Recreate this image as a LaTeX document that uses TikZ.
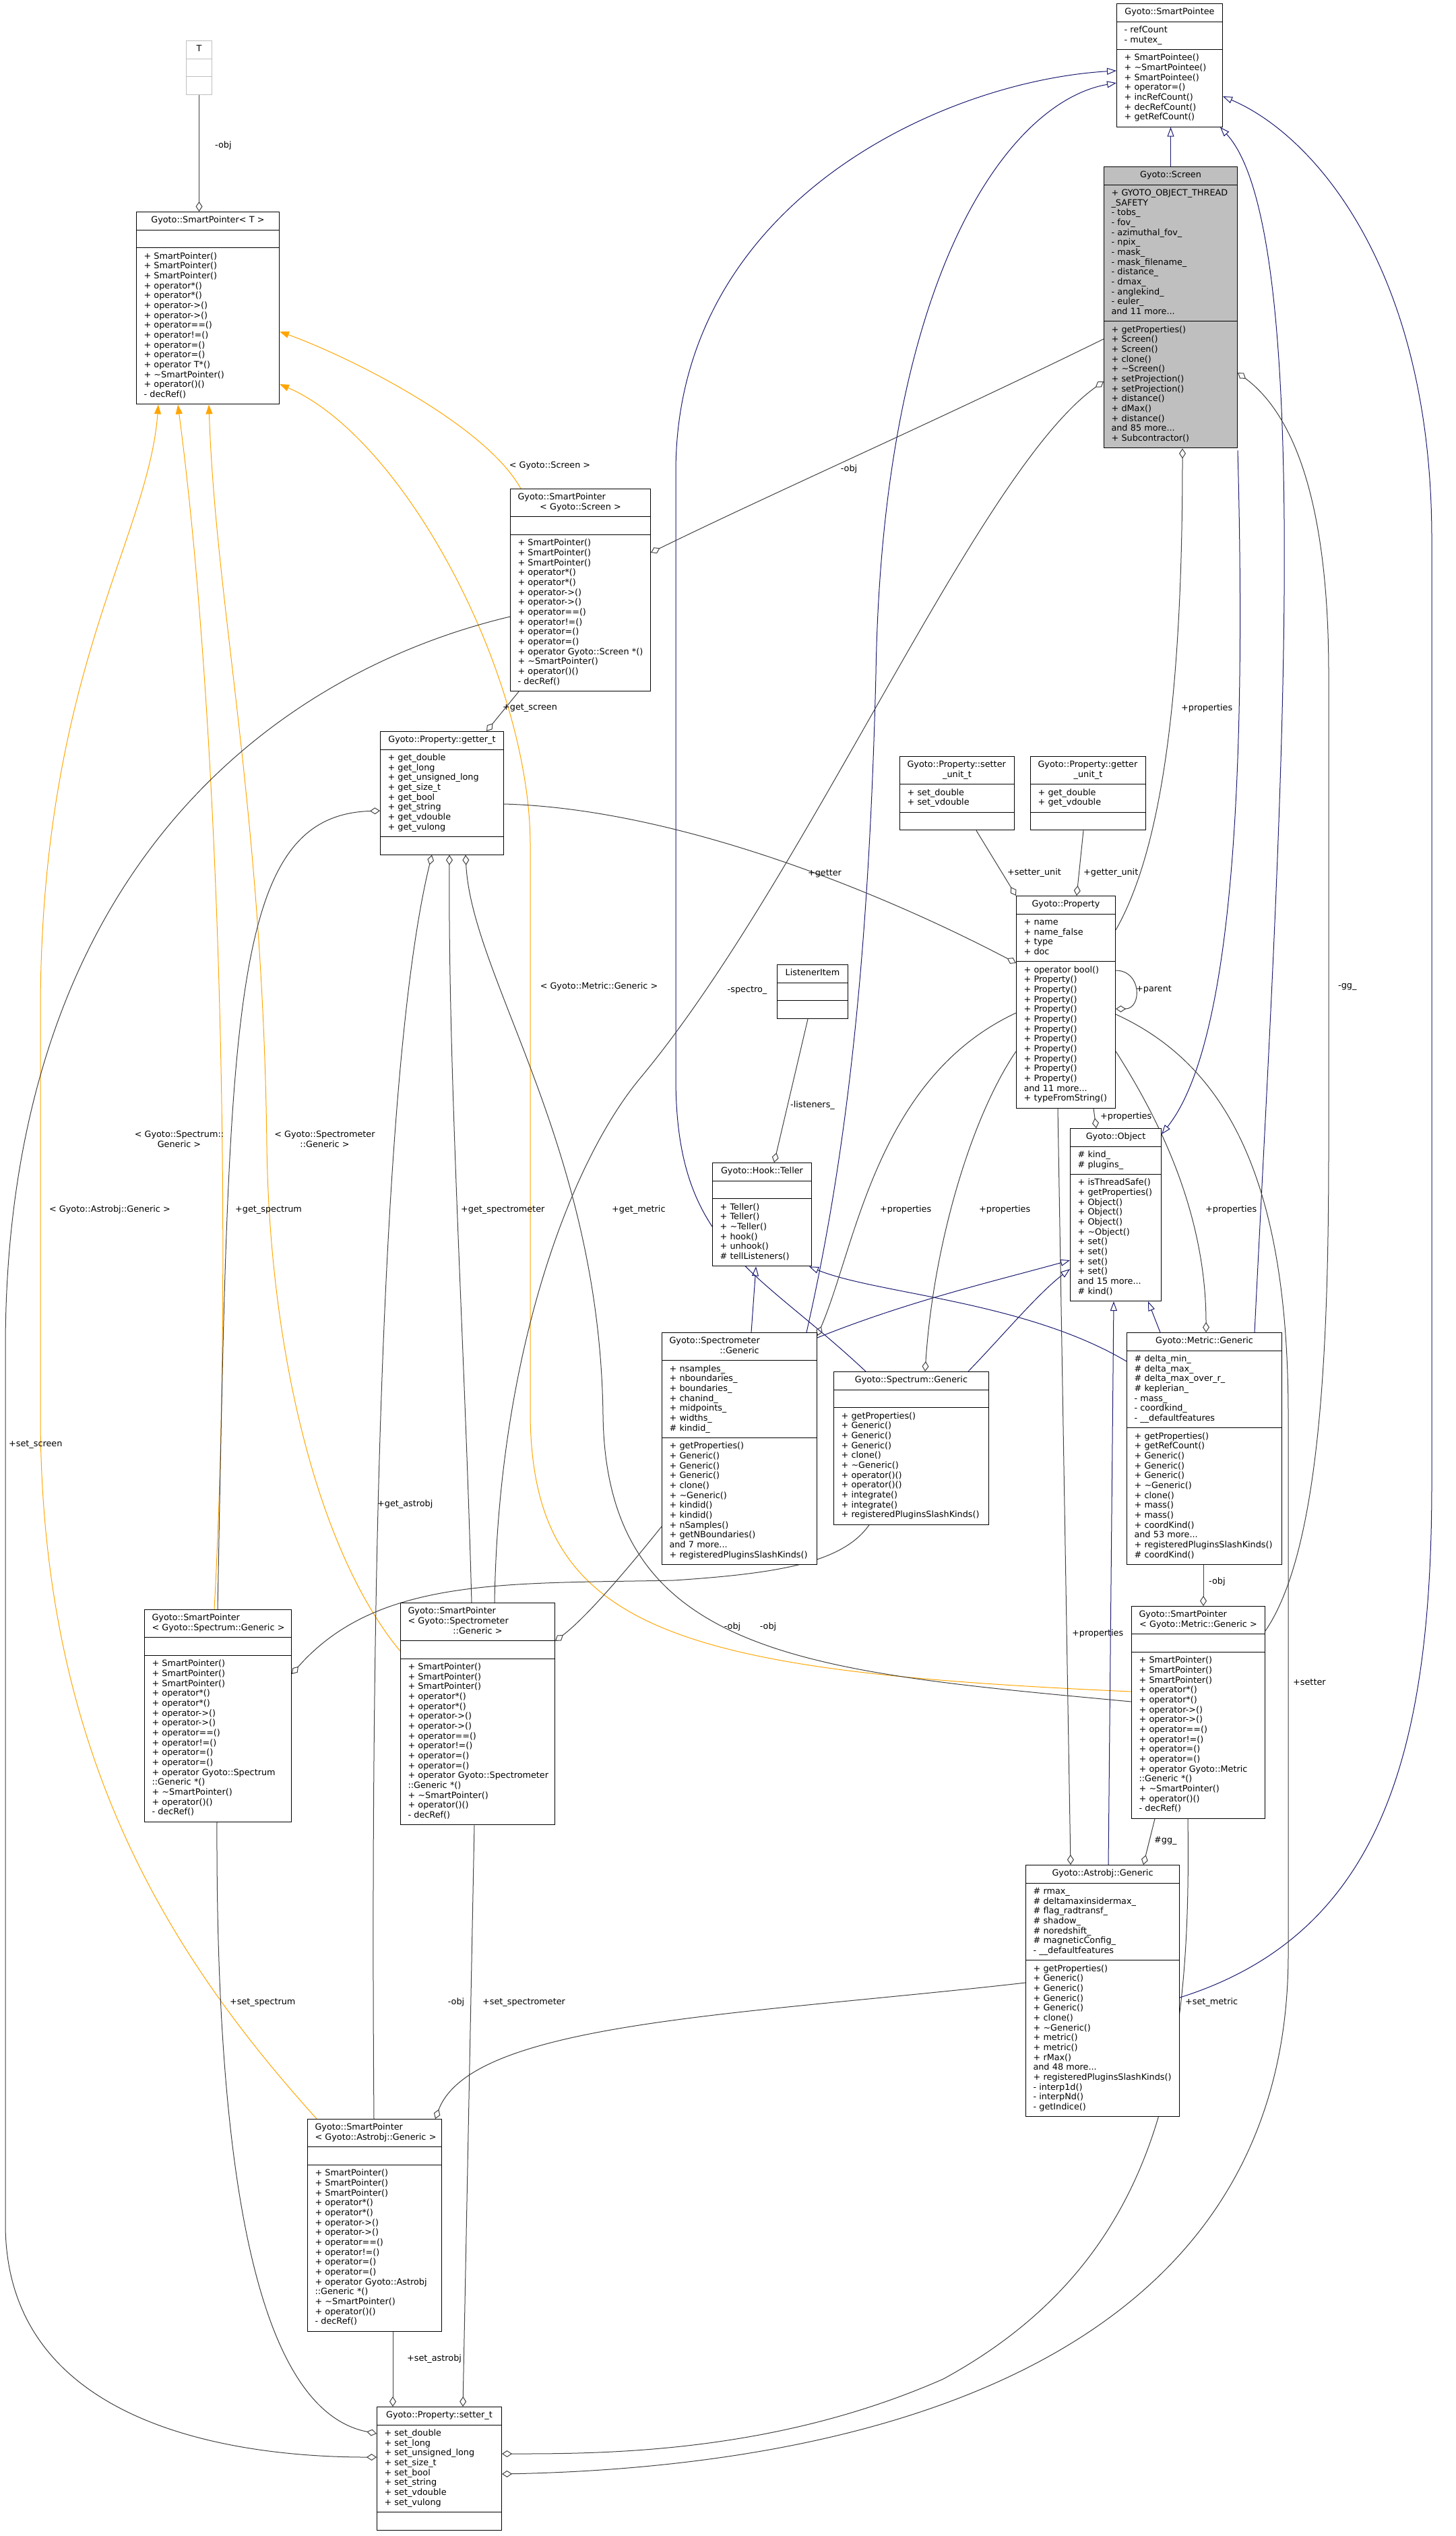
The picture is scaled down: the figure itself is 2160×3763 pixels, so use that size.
\documentclass[tikz,border=0pt]{standalone}
\usepackage{fontspec}
\setmainfont{DejaVu Sans}
\usetikzlibrary{shapes.multipart,arrows.meta}

\definecolor{edgegray}{HTML}{404040}
\definecolor{inhblue}{HTML}{191970}
\definecolor{tmplorange}{HTML}{FFA500}
\definecolor{boxgray}{HTML}{BFBFBF}

\newcommand\dfont{\fontsize{12.8}{14.67}\selectfont}
% one title line, left or centred
\newcommand\lft[1]{\noindent\mbox{\strut#1}\par}
\newcommand\ctr[1]{{\centering\noindent\mbox{\strut#1}\par}}
% a block of member lines
\newcommand\mem[1]{\noindent\begin{tabular}{@{}l@{}}#1\end{tabular}}
\newcommand\spops[1]{\mem{+ SmartPointer()\\+ SmartPointer()\\+ SmartPointer()\\+ operator*()\\+ operator*()\\+ operator->()\\+ operator->()\\+ operator==()\\+ operator!=()\\+ operator=()\\+ operator=()\\#1\\+ \textasciitilde SmartPointer()\\+ operator()()\\- decRef()}}

\pgfdeclarelayer{bg}
\pgfsetlayers{bg,main}

\tikzset{
  cls/.style={rectangle split, rectangle split parts=3, draw=black, fill=white,
    line width=1pt, inner xsep=11pt, inner ysep=5.5pt, font=\dfont, anchor=north west},
  lbl/.style={font=\dfont, inner sep=1pt},
  assoc/.style={draw=edgegray, line width=1pt, -{Diamond[open,length=15pt,width=10pt]}},
  inh/.style={draw=inhblue, line width=1pt, -{Triangle[open,length=14pt,width=10pt]}},
  tmpl/.style={draw=tmplorange, line width=1pt, -{Triangle[length=14pt,width=10pt]}}
}

\begin{document}
\begin{tikzpicture}[x=1pt,y=-1pt]
\useasboundingbox (0,0) rectangle (2160,3763);

% classes
\node[cls, draw=boxgray, text width=16pt] (tT) at (276,60) {\ctr{T}\nodepart{two}\strut\nodepart{three}\strut};
\node[cls, text width=190pt] (spt) at (202,314) {\ctr{Gyoto::SmartPointer< T >}\nodepart{two}\strut
  \nodepart{three}\spops{+ operator T*()}};
\node[cls, text width=135pt] (sptee) at (1657,5) {\ctr{Gyoto::SmartPointee}\nodepart{two}\mem{- refCount\\- mutex\_}
  \nodepart{three}\mem{+ SmartPointee()\\+ \textasciitilde SmartPointee()\\+ SmartPointee()\\+ operator=()\\+ incRefCount()\\+ decRefCount()\\+ getRefCount()}};
\node[cls, fill=boxgray, text width=176pt] (scr) at (1638,247) {\ctr{Gyoto::Screen}
  \nodepart{two}\mem{+ GYOTO\_OBJECT\_THREAD\\\_SAFETY\\- tobs\_\\- fov\_\\- azimuthal\_fov\_\\- npix\_\\- mask\_\\- mask\_filename\_\\- distance\_\\- dmax\_\\- anglekind\_\\- euler\_\\and 11 more...}
  \nodepart{three}\mem{+ getProperties()\\+ Screen()\\+ Screen()\\+ clone()\\+ \textasciitilde Screen()\\+ setProjection()\\+ setProjection()\\+ distance()\\+ dMax()\\+ distance()\\and 85 more...\\+ Subcontractor()}};
\node[cls, text width=186pt] (spscr) at (757,725) {\lft{Gyoto::SmartPointer}\ctr{< Gyoto::Screen >}\nodepart{two}\strut
  \nodepart{three}\spops{+ operator Gyoto::Screen *()}};
\node[cls, text width=161pt] (gett) at (564,1085) {\ctr{Gyoto::Property::getter\_t}
  \nodepart{two}\mem{+ get\_double\\+ get\_long\\+ get\_unsigned\_long\\+ get\_size\_t\\+ get\_bool\\+ get\_string\\+ get\_vdouble\\+ get\_vulong}
  \nodepart{three}\strut};
\node[cls, text width=148pt] (setut) at (1335,1122) {\lft{Gyoto::Property::setter}\ctr{\_unit\_t}
  \nodepart{two}\mem{+ set\_double\\+ set\_vdouble}\nodepart{three}\strut};
\node[cls, text width=149pt] (getut) at (1529,1122) {\lft{Gyoto::Property::getter}\ctr{\_unit\_t}
  \nodepart{two}\mem{+ get\_double\\+ get\_vdouble}\nodepart{three}\strut};
\node[cls, text width=125pt] (prop) at (1508,1329) {\ctr{Gyoto::Property}
  \nodepart{two}\mem{+ name\\+ name\_false\\+ type\\+ doc}
  \nodepart{three}\mem{+ operator bool()\\+ Property()\\+ Property()\\+ Property()\\+ Property()\\+ Property()\\+ Property()\\+ Property()\\+ Property()\\+ Property()\\+ Property()\\+ Property()\\and 11 more...\\+ typeFromString()}};
\node[cls, text width=83pt] (li) at (1153,1431) {\ctr{ListenerItem}\nodepart{two}\strut\nodepart{three}\strut};
\node[cls, text width=125pt] (tel) at (1057,1725) {\ctr{Gyoto::Hook::Teller}\nodepart{two}\strut
  \nodepart{three}\mem{+ Teller()\\+ Teller()\\+ \textasciitilde Teller()\\+ hook()\\+ unhook()\\\# tellListeners()}};
\node[cls, text width=113pt] (obj) at (1588,1674) {\ctr{Gyoto::Object}
  \nodepart{two}\mem{\# kind\_\\\# plugins\_}
  \nodepart{three}\mem{+ isThreadSafe()\\+ getProperties()\\+ Object()\\+ Object()\\+ Object()\\+ \textasciitilde Object()\\+ set()\\+ set()\\+ set()\\+ set()\\and 15 more...\\\# kind()}};
\node[cls, text width=208pt] (spm) at (982,1977) {\lft{Gyoto::Spectrometer}\ctr{::Generic}
  \nodepart{two}\mem{+ nsamples\_\\+ nboundaries\_\\+ boundaries\_\\+ chanind\_\\+ midpoints\_\\+ widths\_\\\# kindid\_}
  \nodepart{three}\mem{+ getProperties()\\+ Generic()\\+ Generic()\\+ Generic()\\+ clone()\\+ \textasciitilde Generic()\\+ kindid()\\+ kindid()\\+ nSamples()\\+ getNBoundaries()\\and 7 more...\\+ registeredPluginsSlashKinds()}};
\node[cls, text width=208pt] (spc) at (1237,2035) {\ctr{Gyoto::Spectrum::Generic}\nodepart{two}\strut
  \nodepart{three}\mem{+ getProperties()\\+ Generic()\\+ Generic()\\+ Generic()\\+ clone()\\+ \textasciitilde Generic()\\+ operator()()\\+ operator()()\\+ integrate()\\+ integrate()\\+ registeredPluginsSlashKinds()}};
\node[cls, text width=208pt] (met) at (1672,1977) {\ctr{Gyoto::Metric::Generic}
  \nodepart{two}\mem{\# delta\_min\_\\\# delta\_max\_\\\# delta\_max\_over\_r\_\\\# keplerian\_\\- mass\_\\- coordkind\_\\- \_\_defaultfeatures}
  \nodepart{three}\mem{+ getProperties()\\+ getRefCount()\\+ Generic()\\+ Generic()\\+ Generic()\\+ \textasciitilde Generic()\\+ clone()\\+ mass()\\+ mass()\\+ coordKind()\\and 53 more...\\+ registeredPluginsSlashKinds()\\\# coordKind()}};
\node[cls, text width=196pt] (spspc) at (214,2388) {\lft{Gyoto::SmartPointer}\ctr{< Gyoto::Spectrum::Generic >}\nodepart{two}\strut
  \nodepart{three}\spops{+ operator Gyoto::Spectrum\\::Generic *()}};
\node[cls, text width=207pt] (spspm) at (594,2378) {\lft{Gyoto::SmartPointer}\lft{< Gyoto::Spectrometer}\ctr{::Generic >}\nodepart{two}\strut
  \nodepart{three}\spops{+ operator Gyoto::Spectrometer\\::Generic *()}};
\node[cls, text width=176pt] (spmet) at (1679,2383) {\lft{Gyoto::SmartPointer}\ctr{< Gyoto::Metric::Generic >}\nodepart{two}\strut
  \nodepart{three}\spops{+ operator Gyoto::Metric\\::Generic *()}};
\node[cls, text width=206pt] (ast) at (1522,2767) {\ctr{Gyoto::Astrobj::Generic}
  \nodepart{two}\mem{\# rmax\_\\\# deltamaxinsidermax\_\\\# flag\_radtransf\_\\\# shadow\_\\\# noredshift\_\\\# magneticConfig\_\\- \_\_defaultfeatures}
  \nodepart{three}\mem{+ getProperties()\\+ Generic()\\+ Generic()\\+ Generic()\\+ Generic()\\+ clone()\\+ \textasciitilde Generic()\\+ metric()\\+ metric()\\+ rMax()\\and 48 more...\\+ registeredPluginsSlashKinds()\\- interp1d()\\- interpNd()\\- getIndice()}};
\node[cls, text width=177pt] (spast) at (456,3144) {\lft{Gyoto::SmartPointer}\ctr{< Gyoto::Astrobj::Generic >}\nodepart{two}\strut
  \nodepart{three}\spops{+ operator Gyoto::Astrobj\\::Generic *()}};
\node[cls, text width=163pt] (sett) at (559,3571) {\ctr{Gyoto::Property::setter\_t}
  \nodepart{two}\mem{+ set\_double\\+ set\_long\\+ set\_unsigned\_long\\+ set\_size\_t\\+ set\_bool\\+ set\_string\\+ set\_vdouble\\+ set\_vulong}
  \nodepart{three}\strut};

% edge labels
\node[lbl] (l-scr) at (816,691) {< Gyoto::Screen >};
\node[lbl] (l-met) at (889,1464) {< Gyoto::Metric::Generic >};
\node[lbl, align=center] (l-spc) at (266,1690) {< Gyoto::Spectrum::\\Generic >};
\node[lbl, align=center] (l-spm) at (482,1690) {< Gyoto::Spectrometer\\::Generic >};
\node[lbl] (l-ast) at (163,1795) {< Gyoto::Astrobj::Generic >};
\node[lbl, anchor=west] (l-obj1) at (318,216) {-obj};
\node[lbl] (l-obj2) at (1260,696) {-obj};
\node[lbl, anchor=west] (l-gscr) at (745,1051) {+get\_screen};
\node[lbl, anchor=west] (l-sscr) at (12,2143) {+set\_screen};
\node[lbl] (l-getter) at (1224,1296) {+getter};
\node[lbl, anchor=west] (l-setu) at (1494,1295) {+setter\_unit};
\node[lbl, anchor=west] (l-getu) at (1607,1295) {+getter\_unit};
\node[lbl, anchor=west] (l-prop1) at (1752,1051) {+properties};
\node[lbl, anchor=west] (l-parent) at (1685,1468) {+parent};
\node[lbl, anchor=west] (l-prop2) at (1632,1657) {+properties};
\node[lbl, anchor=west] (l-prop3) at (1305,1795) {+properties};
\node[lbl, anchor=west] (l-prop4) at (1452,1795) {+properties};
\node[lbl, anchor=west] (l-prop5) at (1788,1795) {+properties};
\node[lbl, anchor=west] (l-prop6) at (1590,2424) {+properties};
\node[lbl, anchor=west] (l-setter) at (1918,2496) {+setter};
\node[lbl, anchor=west] (l-lis) at (1172,1640) {-listeners\_};
\node[lbl] (l-spectro) at (1109,1469) {-spectro\_};
\node[lbl, anchor=west] (l-gspc) at (348,1795) {+get\_spectrum};
\node[lbl, anchor=west] (l-gspm) at (683,1795) {+get\_spectrometer};
\node[lbl, anchor=west] (l-gmet) at (907,1795) {+get\_metric};
\node[lbl, anchor=west] (l-gast) at (559,2232) {+get\_astrobj};
\node[lbl] (l-obj3) at (1087,2414) {-obj};
\node[lbl] (l-obj4) at (1140,2414) {-obj};
\node[lbl, anchor=west] (l-obj5) at (1793,2347) {-obj};
\node[lbl, anchor=west] (l-gg1) at (1712,2731) {\#gg\_};
\node[lbl, anchor=west] (l-gg2) at (1985,1464) {-gg\_};
\node[lbl] (l-obj6) at (677,2971) {-obj};
\node[lbl, anchor=west] (l-sast) at (603,3500) {+set\_astrobj};
\node[lbl, anchor=west] (l-sspc) at (340,2971) {+set\_spectrum};
\node[lbl, anchor=west] (l-sspm) at (715,2971) {+set\_spectrometer};
\node[lbl, anchor=west] (l-smet) at (1758,2971) {+set\_metric};

\begin{pgfonlayer}{bg}
% template instances
\draw[tmpl] ([xshift=16pt]spscr.north west) .. controls (720,630) and (520,530) .. ([yshift=-178pt]spt.north east);
\draw[tmpl] ([yshift=-127pt]spmet.north west) .. controls (1000,2480) and (790,2420) .. (787,2100) -- (787,1250) .. controls (785,1000) and (600,650) .. ([yshift=-256pt]spt.north east);
\draw[tmpl] ([xshift=104pt]spspc.north west) .. controls (345,1900) and (330,1100) .. ([xshift=62pt]spt.south west);
\draw[tmpl] ([yshift=-72pt]spspm.north west) .. controls (470,2300) and (400,2000) .. (396,1700) .. controls (390,1200) and (320,900) .. ([xshift=108pt]spt.south west);
\draw[tmpl] ([xshift=14pt]spast.north west) .. controls (250,2900) and (60,2600) .. (60,2100) -- (60,1500) .. controls (60,1000) and (220,800) .. ([xshift=33pt]spt.south west);
% inheritance
\draw[inh] (scr.north) -- (scr.north |- sptee.south);
\draw[inh] ([xshift=48pt]spc.north west) .. controls (1120,1880) and (1003,1850) .. (1003,1600) -- (1003,700) .. controls (1003,300) and (1400,120) .. ([yshift=-100pt]sptee.north west);
\draw[inh] ([xshift=215pt]spm.north west) .. controls (1260,1700) and (1290,1400) .. (1300,1000) .. controls (1310,400) and (1500,150) .. ([yshift=-118pt]sptee.north west);
\draw[inh] ([xshift=133pt]spm.north west) -- ([xshift=65pt]tel.south west);
\draw[inh] ([yshift=-8pt]spm.north east) .. controls (1350,1930) and (1480,1900) .. ([yshift=-196pt]obj.north west);
\draw[inh] ([xshift=200pt]spc.north west) .. controls (1490,1980) and (1540,1920) .. ([yshift=-209pt]obj.north west);
\draw[inh] ([yshift=-43pt]met.north west) .. controls (1520,1930) and (1300,1920) .. ([xshift=-4pt]tel.south east);
\draw[inh] ([xshift=50pt]met.north west) -- ([xshift=116pt]obj.south west);
\draw[inh] ([xshift=190pt]met.north west) .. controls (1895,1300) and (1960,350) .. ([xshift=-4pt]sptee.south east);
\draw[inh] ([xshift=123pt]ast.north west) -- ([xshift=65pt]obj.south west);
\draw[inh] ([yshift=-197pt]ast.north east) .. controls (2050,2870) and (2125,2600) .. (2125,2200) -- (2125,800) .. controls (2125,400) and (1950,200) .. ([yshift=-138pt]sptee.north east);
\draw[inh] ([yshift=-3pt]scr.south east) .. controls (1850,1150) and (1830,1550) .. ([yshift=-9pt]obj.north east);
% associations
\draw[assoc] (tT.south) -- (tT.south |- spt.north);
\draw[assoc] ([yshift=-256pt]scr.north west) .. controls (1400,620) and (1150,730) .. ([yshift=-95pt]spscr.north east);
\draw[assoc] ([xshift=13pt]spscr.south west) -- ([xshift=158pt]gett.north west);
\draw[assoc] ([yshift=-190pt]spscr.north west) .. controls (400,1000) and (8,1300) .. (8,2000) -- (8,3300) .. controls (8,3600) and (350,3646) .. ([yshift=-75pt]sett.north west);
\draw[assoc] ([yshift=-108pt]gett.north east) .. controls (1000,1200) and (1300,1320) .. ([yshift=-100pt]prop.north west);
\draw[assoc] ([xshift=114pt]setut.south west) -- (prop.north west);
\draw[assoc] ([xshift=79pt]getut.south west) -- ([xshift=90pt]prop.north west);
\draw[assoc] ([yshift=-51pt]prop.north east) .. controls (1730,1250) and (1755,1000) .. ([xshift=117pt]scr.south west);
\draw[assoc] ([yshift=-111pt]prop.north east) .. controls (1695,1440) and (1695,1497) .. ([yshift=-168pt]prop.north east);
\draw[assoc] ([xshift=115pt]prop.south west) -- ([xshift=39pt]obj.north west);
\draw[assoc] ([yshift=-174pt]prop.north west) .. controls (1300,1600) and (1270,1850) .. ([yshift=-5pt]spm.north east);
\draw[assoc] ([yshift=-231pt]prop.north west) .. controls (1440,1660) and (1385,1850) .. ([xshift=136pt]spc.north west);
\draw[assoc] ([yshift=-231pt]prop.north east) .. controls (1720,1660) and (1790,1800) .. ([xshift=118pt]met.north west);
\draw[assoc] ([xshift=62pt]prop.south west) -- ([xshift=67pt]ast.north west);
\draw[assoc] ([yshift=-176pt]prop.north east) .. controls (1820,1580) and (1912,1750) .. (1912,2100) -- (1912,2900) .. controls (1912,3500) and (1300,3660) .. ([yshift=-100pt]sett.north east);
\draw[assoc] ([xshift=46pt]li.south west) -- ([xshift=92pt]tel.north west);
\draw[assoc] ([xshift=140pt]spspm.north west) .. controls (740,2000) and (850,1720) .. (950,1600) .. controls (1200,1300) and (1450,700) .. ([yshift=-319pt]scr.north west);
\draw[assoc] ([xshift=109pt]spspc.north west) .. controls (340,1500) and (340,1210) .. ([yshift=-118pt]gett.north west);
\draw[assoc] ([xshift=106pt]spspm.north west) .. controls (690,2000) and (665,1600) .. ([xshift=103pt]gett.south west);
\draw[assoc] ([yshift=-142pt]spmet.north west) .. controls (1200,2480) and (900,2460) .. (895,2100) .. controls (890,1700) and (700,1450) .. ([xshift=127pt]gett.south west);
\draw[assoc] ([xshift=99pt]spast.north west) .. controls (550,2500) and (560,1600) .. ([xshift=77pt]gett.south west);
\draw[assoc] ([xshift=53pt]spc.south west) .. controls (1250,2320) and (1150,2335) .. (1000,2345) .. controls (750,2350) and (560,2340) .. ([yshift=-96pt]spspc.north east);
\draw[assoc] ([yshift=-288pt]spm.north west) .. controls (930,2330) and (870,2400) .. ([yshift=-57pt]spspm.north east);
\draw[assoc] ([xshift=114pt]met.south west) -- ([xshift=107pt]spmet.north west);
\draw[assoc] ([xshift=35pt]spmet.south west) -- ([xshift=175pt]ast.north west);
\draw[assoc] ([yshift=-37pt]spmet.north east) .. controls (1960,2300) and (1972,2000) .. (1972,1700) -- (1972,1000) .. controls (1972,700) and (1900,600) .. ([yshift=-306pt]scr.north east);
\draw[assoc] ([yshift=-175pt]ast.north west) .. controls (1100,2990) and (700,3000) .. ([xshift=-10pt]spast.north east);
\draw[assoc] ([xshift=127pt]spast.south west) -- ([xshift=24pt]sett.north west);
\draw[assoc] ([xshift=108pt]spspc.south west) .. controls (320,3300) and (400,3580) .. ([yshift=-40pt]sett.north west);
\draw[assoc] ([xshift=110pt]spspm.south west) -- ([xshift=128pt]sett.north west);
\draw[assoc] ([xshift=84pt]spmet.south west) .. controls (1768,3050) and (1730,3350) .. (1400,3530) .. controls (1150,3640) and (900,3641) .. ([yshift=-70pt]sett.north east);
\end{pgfonlayer}
\end{tikzpicture}
\end{document}
